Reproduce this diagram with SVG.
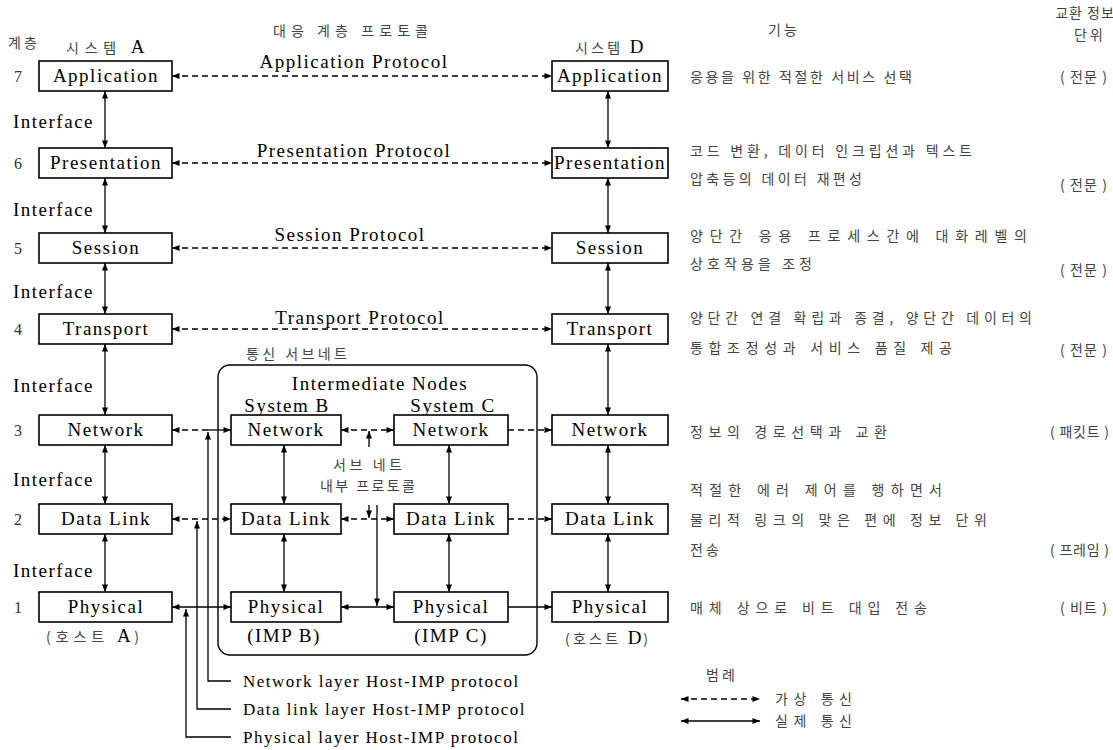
<svg xmlns="http://www.w3.org/2000/svg" width="1113" height="750" viewBox="0 0 1113 750">
<style>
.box{fill:#fff;stroke:#000;stroke-width:1.6}
.lbl{font-family:"Liberation Serif",serif;font-size:19px;letter-spacing:1.5px;text-anchor:middle;fill:#000}
.en{font-family:"Liberation Serif",serif;font-size:19px;letter-spacing:1.5px;fill:#000}
.sm{font-family:"Liberation Serif",serif;font-size:17px;letter-spacing:1.5px;fill:#000}
.num{font-family:"Liberation Serif",serif;font-size:16px;fill:#333;text-anchor:middle}
.kr{font-family:"Noto Sans CJK KR",sans-serif;font-size:14px;letter-spacing:3px;fill:#444}
.krm{font-family:"Noto Sans CJK KR",sans-serif;font-size:14px;letter-spacing:3px;fill:#444;text-anchor:middle}
.ln{stroke:#000;stroke-width:1.3;fill:none}
.dash{stroke-dasharray:6 4}
</style>
<defs>
<marker id="ah" viewBox="0 0 10 8" refX="10" refY="4" markerWidth="8" markerHeight="6" markerUnits="userSpaceOnUse" orient="auto-start-reverse"><path d="M0,0 L10,4 L0,8 z" fill="#000"/></marker>
</defs>

<!-- headers -->
<g id="headers">
<text class="kr" x="8" y="48">계층</text>
<text class="krm" x="106" y="53" textLength="80" lengthAdjust="spacing">시스템 <tspan class="en">A</tspan></text>
<text class="krm" x="610" y="53" textLength="70" lengthAdjust="spacing">시스템 <tspan class="en">D</tspan></text>
<text class="krm" x="352" y="36" textLength="158" lengthAdjust="spacing">대응 계층 프로토콜</text>
<text class="krm" x="784" y="35">기능</text>
<text class="krm" x="1085" y="18" style="letter-spacing:1px">교환 정보</text>
<text class="krm" x="1090" y="40">단위</text>
</g>

<!-- layer numbers and interface labels -->
<g id="numbers">
<text class="num" x="18" y="82">7</text>
<text class="num" x="18" y="169">6</text>
<text class="num" x="18" y="254">5</text>
<text class="num" x="18" y="335">4</text>
<text class="num" x="18" y="436">3</text>
<text class="num" x="18" y="525">2</text>
<text class="num" x="18" y="613">1</text>
<text class="en" x="13" y="128">Interface</text>
<text class="en" x="13" y="216">Interface</text>
<text class="en" x="13" y="298">Interface</text>
<text class="en" x="13" y="392">Interface</text>
<text class="en" x="13" y="486">Interface</text>
<text class="en" x="13" y="577">Interface</text>
</g>

<!-- System A -->
<g id="A7"><rect class="box" x="39" y="61" width="133" height="30"/><text class="lbl" x="106" y="82">Application</text></g>
<g id="A6"><rect class="box" x="39" y="148" width="133" height="30"/><text class="lbl" x="106" y="169">Presentation</text></g>
<g id="A5"><rect class="box" x="39" y="233" width="133" height="30"/><text class="lbl" x="106" y="254">Session</text></g>
<g id="A4"><rect class="box" x="39" y="314" width="133" height="30"/><text class="lbl" x="106" y="335">Transport</text></g>
<g id="A3"><rect class="box" x="39" y="415" width="133" height="30"/><text class="lbl" x="106" y="436">Network</text></g>
<g id="A2"><rect class="box" x="39" y="504" width="133" height="30"/><text class="lbl" x="106" y="525">Data Link</text></g>
<g id="A1"><rect class="box" x="39" y="592" width="133" height="30"/><text class="lbl" x="106" y="613">Physical</text>
<text class="krm" x="94" y="642" textLength="96" lengthAdjust="spacing">(호스트 <tspan class="en">A</tspan>)</text></g>

<!-- System D -->
<g id="D7"><rect class="box" x="552" y="61" width="116" height="30"/><text class="lbl" x="610" y="82">Application</text></g>
<g id="D6"><rect class="box" x="552" y="148" width="116" height="30"/><text class="lbl" x="610" y="169">Presentation</text></g>
<g id="D5"><rect class="box" x="552" y="233" width="116" height="30"/><text class="lbl" x="610" y="254">Session</text></g>
<g id="D4"><rect class="box" x="552" y="314" width="116" height="30"/><text class="lbl" x="610" y="335">Transport</text></g>
<g id="D3"><rect class="box" x="552" y="415" width="116" height="30"/><text class="lbl" x="610" y="436">Network</text></g>
<g id="D2"><rect class="box" x="552" y="504" width="116" height="30"/><text class="lbl" x="610" y="525">Data Link</text></g>
<g id="D1"><rect class="box" x="552" y="592" width="116" height="30"/><text class="lbl" x="610" y="613">Physical</text>
<text class="krm" x="608" y="644" textLength="86" lengthAdjust="spacing">(호스트 <tspan class="en">D</tspan>)</text></g>

<!-- subnet -->
<g id="subnet">
<rect x="218" y="365" width="319" height="290" rx="12" ry="12" fill="none" stroke="#000" stroke-width="1.4"/>
<text class="krm" x="298" y="359" textLength="104" lengthAdjust="spacing">통신 서브네트</text>
<text class="lbl" x="380" y="390">Intermediate Nodes</text>
<text class="lbl" x="287" y="412">System B</text>
<text class="lbl" x="453" y="412">System C</text>
<text class="krm" x="369" y="470" textLength="72" lengthAdjust="spacing">서브 네트</text>
<text class="krm" x="369" y="491" textLength="98" lengthAdjust="spacing">내부 프로토콜</text>
<text class="lbl" x="284" y="642">(IMP B)</text>
<text class="lbl" x="451" y="642">(IMP C)</text>
</g>
<g id="B3"><rect class="box" x="231" y="415" width="110" height="30"/><text class="lbl" x="286" y="436">Network</text></g>
<g id="B2"><rect class="box" x="231" y="504" width="110" height="30"/><text class="lbl" x="286" y="525">Data Link</text></g>
<g id="B1"><rect class="box" x="231" y="592" width="110" height="30"/><text class="lbl" x="286" y="613">Physical</text></g>
<g id="C3"><rect class="box" x="394" y="415" width="114" height="30"/><text class="lbl" x="451" y="436">Network</text></g>
<g id="C2"><rect class="box" x="394" y="504" width="114" height="30"/><text class="lbl" x="451" y="525">Data Link</text></g>
<g id="C1"><rect class="box" x="394" y="592" width="114" height="30"/><text class="lbl" x="451" y="613">Physical</text></g>

<!-- protocol labels -->
<g id="protocol-labels">
<text class="lbl" x="354" y="68">Application Protocol</text>
<text class="lbl" x="354" y="157">Presentation Protocol</text>
<text class="lbl" x="350" y="241">Session Protocol</text>
<text class="lbl" x="360" y="324">Transport Protocol</text>
</g>

<!-- functions -->
<g id="functions">
<text class="kr" x="690" y="82" textLength="225" lengthAdjust="spacing">응용을 위한 적절한 서비스 선택</text>
<text class="kr" x="690" y="156" textLength="285" lengthAdjust="spacing">코드 변환, 데이터 인크립션과 텍스트</text>
<text class="kr" x="690" y="184" textLength="175" lengthAdjust="spacing">압축등의 데이터 재편성</text>
<text class="kr" x="690" y="241" textLength="340" lengthAdjust="spacing">양단간 응용 프로세스간에 대화레벨의</text>
<text class="kr" x="690" y="269" textLength="125" lengthAdjust="spacing">상호작용을 조정</text>
<text class="kr" x="690" y="323" textLength="345" lengthAdjust="spacing">양단간 연결 확립과 종결, 양단간 데이터의</text>
<text class="kr" x="690" y="353" textLength="265" lengthAdjust="spacing">통합조정성과 서비스 품질 제공</text>
<text class="kr" x="690" y="437" textLength="200" lengthAdjust="spacing">정보의 경로선택과 교환</text>
<text class="kr" x="690" y="495" textLength="255" lengthAdjust="spacing">적절한 에러 제어를 행하면서</text>
<text class="kr" x="690" y="525" textLength="300" lengthAdjust="spacing">물리적 링크의 맞은 편에 정보 단위</text>
<text class="kr" x="690" y="555" textLength="32" lengthAdjust="spacing">전송</text>
<text class="kr" x="690" y="613" textLength="240" lengthAdjust="spacing">매체 상으로 비트 대입 전송</text>
<text class="krm" x="1085" y="82" textLength="50" lengthAdjust="spacing">( 전문 )</text>
<text class="krm" x="1085" y="190" textLength="50" lengthAdjust="spacing">( 전문 )</text>
<text class="krm" x="1085" y="275" textLength="50" lengthAdjust="spacing">( 전문 )</text>
<text class="krm" x="1085" y="355" textLength="50" lengthAdjust="spacing">( 전문 )</text>
<text class="krm" x="1081" y="437" textLength="62" lengthAdjust="spacing">( 패킷트 )</text>
<text class="krm" x="1081" y="555" textLength="62" lengthAdjust="spacing">( 프레임 )</text>
<text class="krm" x="1085" y="613" textLength="50" lengthAdjust="spacing">( 비트 )</text>
</g>

<!-- bottom protocol labels -->
<g id="host-imp-labels">
<text class="sm" x="243" y="687">Network layer Host-IMP protocol</text>
<text class="sm" x="243" y="715">Data link layer Host-IMP protocol</text>
<text class="sm" x="243" y="743">Physical layer Host-IMP protocol</text>
</g>

<!-- legend -->
<g id="legend">
<text class="kr" x="706" y="680">범례</text>
<line class="ln dash" x1="681" y1="699" x2="760" y2="699" marker-start="url(#ah)" marker-end="url(#ah)"/>
<text class="kr" x="775" y="704" textLength="80" lengthAdjust="spacing">가상 통신</text>
<line class="ln" x1="681" y1="721" x2="760" y2="721" marker-start="url(#ah)" marker-end="url(#ah)"/>
<text class="kr" x="775" y="726" textLength="80" lengthAdjust="spacing">실제 통신</text>
</g>

<!-- connectors -->
<g id="connectors">
<line class="ln dash" x1="172" y1="76" x2="552" y2="76" marker-start="url(#ah)" marker-end="url(#ah)"/>
<line class="ln dash" x1="172" y1="163" x2="552" y2="163" marker-start="url(#ah)" marker-end="url(#ah)"/>
<line class="ln dash" x1="172" y1="248" x2="552" y2="248" marker-start="url(#ah)" marker-end="url(#ah)"/>
<line class="ln dash" x1="172" y1="329" x2="552" y2="329" marker-start="url(#ah)" marker-end="url(#ah)"/>
<line class="ln" x1="105" y1="91" x2="105" y2="148" marker-start="url(#ah)" marker-end="url(#ah)"/>
<line class="ln" x1="105" y1="178" x2="105" y2="233" marker-start="url(#ah)" marker-end="url(#ah)"/>
<line class="ln" x1="105" y1="263" x2="105" y2="314" marker-start="url(#ah)" marker-end="url(#ah)"/>
<line class="ln" x1="105" y1="344" x2="105" y2="415" marker-start="url(#ah)" marker-end="url(#ah)"/>
<line class="ln" x1="105" y1="445" x2="105" y2="504" marker-start="url(#ah)" marker-end="url(#ah)"/>
<line class="ln" x1="105" y1="534" x2="105" y2="592" marker-start="url(#ah)" marker-end="url(#ah)"/>
<line class="ln" x1="608" y1="91" x2="608" y2="148" marker-start="url(#ah)" marker-end="url(#ah)"/>
<line class="ln" x1="608" y1="178" x2="608" y2="233" marker-start="url(#ah)" marker-end="url(#ah)"/>
<line class="ln" x1="608" y1="263" x2="608" y2="314" marker-start="url(#ah)" marker-end="url(#ah)"/>
<line class="ln" x1="608" y1="344" x2="608" y2="415" marker-start="url(#ah)" marker-end="url(#ah)"/>
<line class="ln" x1="608" y1="445" x2="608" y2="504" marker-start="url(#ah)" marker-end="url(#ah)"/>
<line class="ln" x1="608" y1="534" x2="608" y2="592" marker-start="url(#ah)" marker-end="url(#ah)"/>
<line class="ln" x1="284" y1="445" x2="284" y2="504" marker-start="url(#ah)" marker-end="url(#ah)"/>
<line class="ln" x1="284" y1="534" x2="284" y2="592" marker-start="url(#ah)" marker-end="url(#ah)"/>
<line class="ln" x1="449" y1="445" x2="449" y2="504" marker-start="url(#ah)" marker-end="url(#ah)"/>
<line class="ln" x1="449" y1="534" x2="449" y2="592" marker-start="url(#ah)" marker-end="url(#ah)"/>
<line class="ln dash" x1="172" y1="430" x2="208" y2="430" marker-start="url(#ah)"/>
<line class="ln" x1="208" y1="430" x2="231" y2="430" marker-end="url(#ah)"/>
<line class="ln dash" x1="172" y1="519" x2="231" y2="519" marker-start="url(#ah)" marker-end="url(#ah)"/>
<line class="ln" x1="172" y1="607" x2="231" y2="607" marker-start="url(#ah)" marker-end="url(#ah)"/>
<polyline class="ln" points="231,681 208,681 208,432" marker-end="url(#ah)"/>
<polyline class="ln" points="231,709 197,709 197,521" marker-end="url(#ah)"/>
<polyline class="ln" points="231,737 186,737 186,609" marker-end="url(#ah)"/>
<line class="ln dash" x1="341" y1="430" x2="394" y2="430" marker-start="url(#ah)" marker-end="url(#ah)"/>
<line class="ln dash" x1="341" y1="519" x2="394" y2="519" marker-start="url(#ah)" marker-end="url(#ah)"/>
<line class="ln" x1="341" y1="607" x2="394" y2="607" marker-start="url(#ah)" marker-end="url(#ah)"/>
<line class="ln" x1="369" y1="447" x2="369" y2="431" marker-end="url(#ah)"/>
<line class="ln" x1="369" y1="505" x2="369" y2="518" marker-end="url(#ah)"/>
<line class="ln" x1="377" y1="505" x2="377" y2="606" marker-end="url(#ah)"/>
<line class="ln dash" x1="508" y1="430" x2="552" y2="430" marker-end="url(#ah)"/>
<line class="ln dash" x1="508" y1="519" x2="552" y2="519" marker-end="url(#ah)"/>
<line class="ln" x1="508" y1="607" x2="552" y2="607" marker-end="url(#ah)"/>
</g>
</svg>
